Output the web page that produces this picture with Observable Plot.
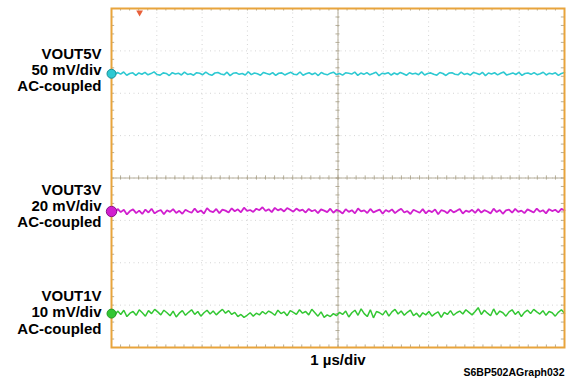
<!DOCTYPE html>
<html><head><meta charset="utf-8">
<script src="https://cdn.jsdelivr.net/npm/d3@7"></script>
<script src="https://cdn.jsdelivr.net/npm/@observablehq/plot@0.6"></script>
<style>
body{margin:0;background:#fff;}
#chart{width:566px;height:386px;}
</style></head><body><div id="chart"></div>
<script>
// ---- data ----
const channelNames = ["VOUT5V", "VOUT3V", "VOUT1V"];
const channelScales = ["50 mV/div", "20 mV/div", "10 mV/div"];
const channelCoupling = ["AC-coupled", "AC-coupled", "AC-coupled"];
const mvPerDiv = [50, 20, 10];
const channelOffsetDiv = [6.46, 3.21, 0.80];
const timeLabel = "1 µs/div";
const graphId = "S6BP502AGraph032";
const timeSpanUs = 10;

// noise samples in mV
const vout5v = [0.8,-1.2,1.5,-0.4,2.1,-1.8,0.3,1.1,-2.0,0.9,-0.6,1.7,-1.3,0.2,2.2,-0.9,-1.6,1.0,0.4,-2.1,1.3,-0.2,0.7,-1.4,1.9,-0.8,0.1,-1.7,1.2,0.6,-1.1,2.0,-0.5,-1.9,0.9,1.4,-0.3,-1.2,1.8,-2.2,0.5,1.1,-0.7,0.3,-1.5,2.3,-1.0,0.8,-0.1,-1.8,1.6,0.2,-0.9,1.3,-2.0,0.6,1.0,-1.4,0.4,1.7,-0.6,-1.1,2.1,-1.7,0.0,1.2,-0.8,0.9,-2.1,1.5,-0.2,-1.3,0.7,1.9,-1.0,0.3,-1.6,1.1,0.5,-0.4,2.0,-1.9,0.8,-0.7,1.4,-1.2,0.2,1.8,-2.3,0.6,-0.1,1.3,-1.5,0.9,-0.9,1.6,0.1,-1.8,1.2,-0.3,0.7,-1.1,2.2,-1.4,0.4,1.0,-0.6,-1.7,1.5,0.3,-2.0,0.8,1.1,-0.5,-1.2,1.9,-0.8,0.2,-1.5,1.4,0.6,-1.0,1.7,-2.2,0.9,-0.2,1.2,-1.3,0.5,2.0,-1.6,-0.4,1.0,-0.9,1.6,-1.9,0.3,0.8,-0.7,1.3,-1.1,0.1,1.8,-1.4,0.7,-0.3,1.1,-2.0,0.4,1.5];
const vout3v = [0.5,-1.0,1.2,-0.3,0.8,-1.4,0.2,1.0,-0.8,0.4,-1.2,0.9,-0.5,1.3,-0.9,0.1,0.7,-1.3,0.6,-0.2,1.1,-0.7,0.3,-1.1,0.8,0.0,-0.6,1.4,-0.4,0.5,-1.0,1.6,0.2,-0.3,1.2,-0.8,0.9,0.4,-0.5,1.5,0.1,1.0,-0.4,1.8,0.3,0.7,-0.2,1.3,0.6,2.0,0.2,1.1,-0.3,1.7,0.5,1.2,0.0,1.6,0.8,-0.1,1.4,0.3,0.9,-0.5,1.2,0.1,0.7,-0.8,1.0,0.4,-0.3,1.3,-0.6,0.8,0.2,-1.0,1.1,-0.2,0.6,-0.9,1.4,0.0,0.5,-0.7,1.2,-0.4,0.3,0.9,-1.1,0.7,-0.1,1.0,-0.8,0.4,1.3,-0.5,0.2,-1.2,0.8,0.1,-0.6,1.1,-0.9,0.5,-0.3,1.0,-1.3,0.6,0.2,-0.8,0.9,-0.4,0.3,1.2,-1.0,0.4,-0.2,0.8,-0.7,1.1,-0.5,0.6,0.0,-0.9,1.3,-0.3,0.7,-1.1,0.5,0.9,-0.6,1.2,-0.2,0.4,-0.8,1.0,0.3,-0.5,1.4,-0.1,0.6,-0.9,1.1,0.2,0.8,-0.4,1.2,0.5];
const vout1v = [0.3,-0.5,0.6,-0.2,0.8,-0.7,0.1,0.5,-0.4,0.9,0.2,-0.6,0.7,0.0,1.0,0.4,-0.3,0.8,0.2,-0.5,0.6,-0.8,0.1,0.7,-0.4,0.3,0.9,-0.2,0.5,-0.6,0.2,0.8,-0.1,0.6,-0.3,0.4,1.0,0.1,0.7,-0.2,0.3,-0.7,-0.2,-0.9,-0.4,0.2,-0.6,0.1,-0.3,0.5,-0.1,0.6,0.2,-0.4,0.8,0.0,0.4,-0.5,0.7,0.3,-0.2,0.9,0.1,0.5,-0.3,1.0,0.2,-0.6,0.4,-0.9,-0.3,-0.7,0.0,-0.5,0.3,-0.2,0.6,-0.8,0.2,0.8,-0.4,1.1,0.0,-0.7,0.9,-1.0,0.5,0.2,-0.3,0.7,-0.6,0.4,1.0,-0.1,0.6,-0.4,0.3,0.8,-0.5,0.1,-0.8,0.2,-0.3,0.5,-0.6,0.0,0.4,-0.9,0.3,-0.2,0.7,-0.4,0.2,0.6,-0.1,0.9,0.3,-0.3,0.5,1.4,-0.2,0.8,0.1,-0.5,1.1,-0.3,0.6,0.2,-0.6,0.4,0.9,-0.2,0.5,-0.7,0.3,0.8,0.0,1.0,0.4,-0.1,0.7,-0.4,0.5,0.2,-0.6,0.3,0.9,0.1];
const traces = [vout5v, vout3v, vout1v];

// ---- styling / layout ----
const colors = ["#2ec9d2", "#d11fcf", "#33c733"];
const markerStroke = ["#1a8f96", "#8a1488", "#229a22"];
const traceWidth = [1.6, 1.8, 1.5];
const markerR = [4.5, 5.2, 4.5];
const labelShiftDiv = [0.10, 0.14, 0.03];
const font = "'Liberation Sans', Arial, Helvetica, sans-serif";
const xDiv = 10, yDiv = 8;
const gridColor = "#d4d4d4", centerColor = "#a39a82", frameColor = "#e8a43c";

const rows = [];
traces.forEach((vals, k) => {
  vals.forEach((v, i) => rows.push({
    t: i * timeSpanUs / (vals.length - 1),
    y: channelOffsetDiv[k] + v / mvPerDiv[k],
    ch: channelNames[k]
  }));
});
const chans = channelNames.map((n, k) => ({
  name: n, k,
  label: `${n}\n${channelScales[k]}\n${channelCoupling[k]}`,
  y: channelOffsetDiv[k]
}));

const xMinor = d3.range(0, xDiv + 0.001, 0.2);
const yMinor = d3.range(0, yDiv + 0.001, 0.2);
const xs = timeSpanUs / xDiv;

const chart = Plot.plot({
  width: 566, height: 386,
  marginLeft: 111, marginRight: 2, marginTop: 8, marginBottom: 39,
  x: {domain: [0, timeSpanUs], axis: null},
  y: {domain: [0, yDiv], axis: null},
  r: {type: "identity"},
  style: {fontFamily: font, background: "#fff", overflow: "visible"},
  marks: [
    Plot.ruleX(d3.range(1, xDiv), {x: d => d * xs, stroke: gridColor, strokeDasharray: "1,3.5"}),
    Plot.ruleY(d3.range(1, yDiv), {y: d => d, stroke: gridColor, strokeDasharray: "1,3.5"}),
    Plot.ruleX([5 * xs], {stroke: centerColor, strokeWidth: 0.8}),
    Plot.ruleY([4], {stroke: centerColor, strokeWidth: 0.8}),
    Plot.ruleX(xMinor, {x: d => d * xs, y1: 4 - 0.05, y2: 4 + 0.05, stroke: centerColor, strokeWidth: 0.8}),
    Plot.ruleY(yMinor, {y: d => d, x1: 5 * xs - 0.045, x2: 5 * xs + 0.045, stroke: centerColor, strokeWidth: 0.8}),
    Plot.ruleX(xMinor, {x: d => d * xs, y1: yDiv, y2: yDiv - 0.06, stroke: centerColor, strokeWidth: 0.8}),
    Plot.ruleX(xMinor, {x: d => d * xs, y1: 0, y2: 0.06, stroke: centerColor, strokeWidth: 0.8}),
    Plot.ruleY(yMinor, {y: d => d, x1: 0, x2: 0.07 * xs, stroke: centerColor, strokeWidth: 0.8}),
    Plot.ruleY(yMinor, {y: d => d, x1: timeSpanUs, x2: timeSpanUs - 0.07 * xs, stroke: centerColor, strokeWidth: 0.8}),
    ...channelNames.map((n, k) => Plot.lineY(rows.filter(r => r.ch === n), {x: "t", y: "y", stroke: colors[k], strokeWidth: traceWidth[k], strokeLinejoin: "miter"})),
    Plot.frame({stroke: frameColor, strokeWidth: 2}),
    Plot.dot(chans, {x: 0, y: "y", r: d => markerR[d.k], fill: d => colors[d.k], stroke: d => markerStroke[d.k], strokeWidth: 1}),
    Plot.dot([0.62 * xs], {x: d => d, y: yDiv, dy: 4, symbol: "triangle", rotate: 180, r: 2.5, fill: "#e8603a"}),
    Plot.text(chans, {x: 0, y: d => d.y + labelShiftDiv[d.k], text: "label", textAnchor: "end", dx: -10,
      lineAnchor: "middle", lineHeight: 1.07, fontSize: 15, fontWeight: "bold", fill: "#000"}),
    Plot.text([timeLabel], {frameAnchor: "bottom", dy: 13, lineAnchor: "middle", fontSize: 15, fontWeight: "bold", fill: "#000"}),
    Plot.text([graphId], {frameAnchor: "bottom-right", dy: 25, textAnchor: "end", lineAnchor: "middle", fontSize: 10.5, fontWeight: "bold", fill: "#000"})
  ]
});
document.getElementById("chart").appendChild(chart);
</script></body></html>
